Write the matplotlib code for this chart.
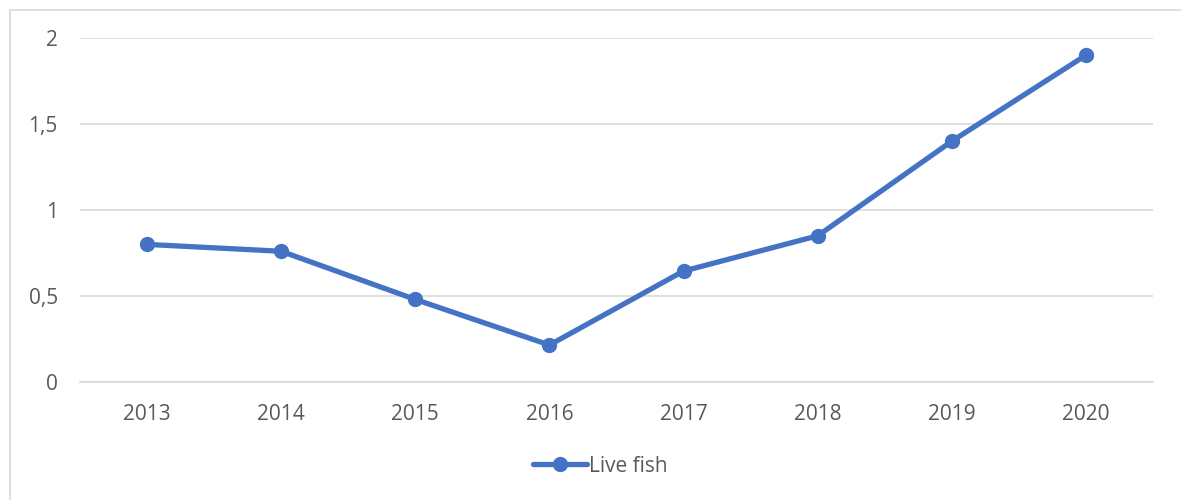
import matplotlib.pyplot as plt
from matplotlib.patches import Rectangle

years = ["2013", "2014", "2015", "2016", "2017", "2018", "2019", "2020"]
live_fish = [0.80, 0.76, 0.48, 0.215, 0.645, 0.85, 1.40, 1.90]
yticks = [0, 0.5, 1, 1.5, 2]
ytick_labels = ["0", "0,5", "1", "1,5", "2"]

plt.rcParams['font.family'] = ['Open Sans', 'DejaVu Sans']

fig = plt.figure(figsize=(11.81, 5), dpi=100)
W, H = 1181, 500

# outer chart border (light gray, runs off right/bottom edges)
fig.patches.append(Rectangle((10 / W, -0.1), 1.2, (H - 9.5) / H + 0.1,
                             transform=fig.transFigure, fill=False,
                             ec="#D9D9D9", lw=1.2))

ax = fig.add_axes([80 / W, 1 - 382 / H, (1153 - 80) / W, (382 - 38) / H])
x = list(range(len(years)))
ax.plot(x, live_fish, color="#4472C4", lw=3.8, marker="o", ms=10,
        solid_capstyle="round", label="Live fish", zorder=3, clip_on=False)

ax.set_xlim(-0.5, len(years) - 0.5)
ax.set_ylim(0, 2)
ax.set_yticks(yticks)
ax.set_yticklabels(ytick_labels)
ax.set_xticks(x)
ax.set_xticklabels(years)
ax.grid(axis="y", color="#D9D9D9", lw=1.2)
for s in ["top", "right", "left"]:
    ax.spines[s].set_visible(False)
ax.spines["bottom"].set_color("#D9D9D9")
ax.spines["bottom"].set_linewidth(1.2)
ax.tick_params(length=0, labelsize=15, labelcolor="#595959")
ax.tick_params(axis="y", pad=16)
ax.tick_params(axis="x", pad=15.5)

leg = fig.legend(loc="center", bbox_to_anchor=(600 / W, 1 - 466 / H),
                 frameon=False, fontsize=15, handlelength=2.6,
                 handletextpad=0.1, labelcolor="#595959")

fig.savefig("out.png", dpi=100)
